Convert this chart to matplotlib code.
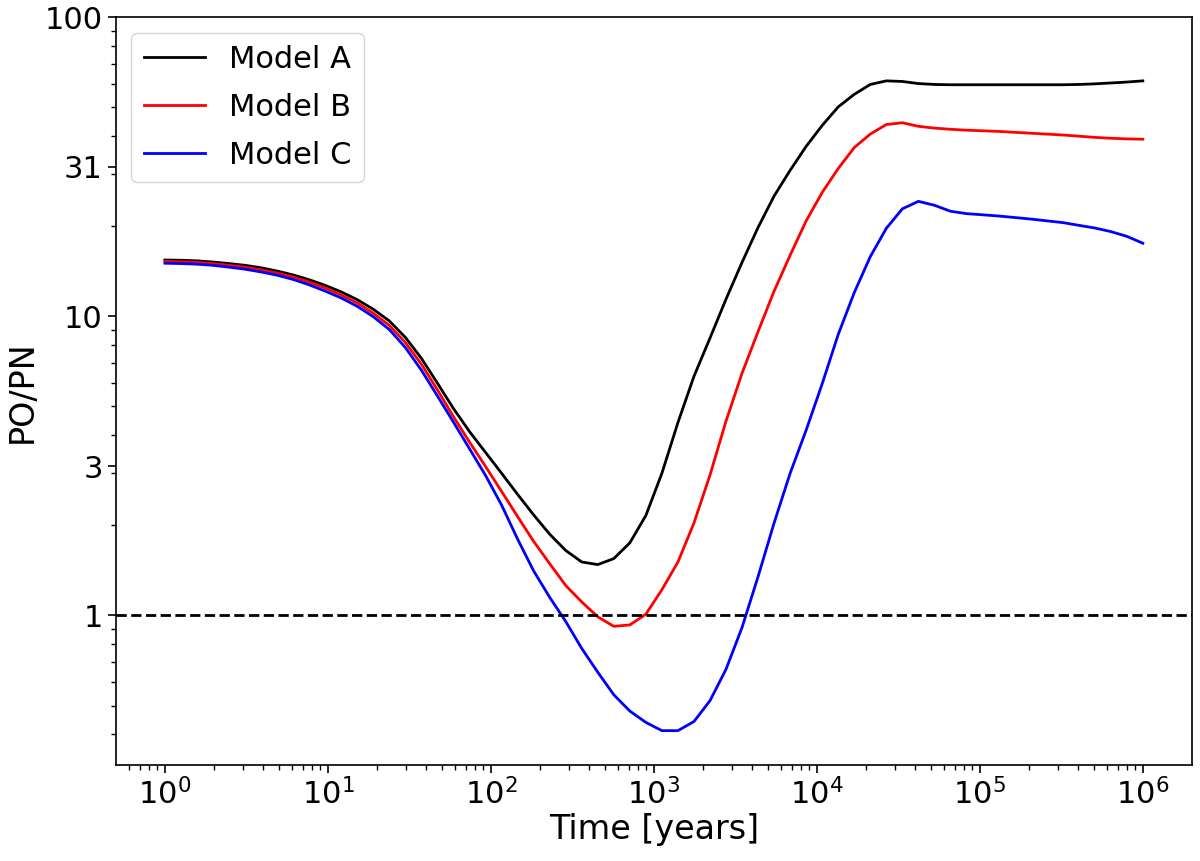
import numpy as np
import matplotlib
matplotlib.use("Agg")
import matplotlib.pyplot as plt
from matplotlib.ticker import NullFormatter

# time grid [years], log spaced 1 .. 1e6
time_yr = [1, 1.254, 1.573, 1.973, 2.475, 3.104, 3.893, 4.883, 6.124, 7.681,
           9.630, 12.08, 15.15, 19.00, 23.83, 29.89, 37.49, 47.01, 58.97, 73.95,
           92.74, 116.3, 145.9, 182.9, 229.5, 287.8, 360.9, 452.7, 567.7, 712.0,
           893.0, 1120, 1405, 1762, 2210, 2771, 3475, 4359, 5467, 6856,
           8599, 10785, 13525, 16963, 21275, 26682, 33464, 41969, 52636, 66014,
           82794, 103835, 130224, 163322, 204833, 256891, 322182, 404069, 506767, 635571,
           797107, 1000000]

model_a = [15.45, 15.42, 15.35, 15.21, 15.03, 14.83, 14.55, 14.19, 13.77, 13.27,
           12.71, 12.08, 11.38, 10.57, 9.66, 8.51, 7.24, 5.98, 4.92, 4.12,
           3.51, 2.99, 2.54, 2.17, 1.87, 1.65, 1.51, 1.48, 1.55, 1.75,
           2.16, 2.99, 4.42, 6.31, 8.47, 11.43, 15.17, 19.86, 25.29, 30.83,
           37.07, 43.55, 50.23, 55.34, 59.70, 61.38, 61.09, 60.12, 59.70, 59.57,
           59.57, 59.57, 59.57, 59.57, 59.57, 59.57, 59.57, 59.70, 59.98, 60.39,
           60.81, 61.38]

model_b = [15.28, 15.24, 15.17, 15.03, 14.83, 14.62, 14.32, 13.96, 13.55, 13.03,
           12.45, 11.80, 11.09, 10.25, 9.33, 8.18, 6.92, 5.68, 4.62, 3.80,
           3.15, 2.60, 2.14, 1.77, 1.49, 1.26, 1.11, 0.99, 0.92, 0.93,
           1.01, 1.22, 1.51, 2.04, 2.95, 4.47, 6.46, 8.91, 12.16, 16.03,
           20.89, 26.0, 31.26, 36.73, 40.74, 43.85, 44.46, 43.25, 42.66, 42.27,
           41.98, 41.78, 41.59, 41.30, 41.02, 40.74, 40.46, 40.09, 39.72, 39.45,
           39.26, 39.17]

model_c = [15.07, 15.03, 14.96, 14.83, 14.62, 14.39, 14.09, 13.74, 13.30, 12.76,
           12.16, 11.53, 10.81, 9.98, 9.04, 7.87, 6.61, 5.42, 4.43, 3.61,
           2.94, 2.34, 1.80, 1.41, 1.15, 0.955, 0.776, 0.646, 0.543, 0.479,
           0.439, 0.412, 0.412, 0.442, 0.519, 0.661, 0.912, 1.35, 2.04, 2.99,
           4.17, 5.96, 8.71, 12.02, 15.85, 19.72, 22.91, 24.27, 23.55, 22.49,
           22.08, 21.88, 21.68, 21.43, 21.18, 20.89, 20.61, 20.18, 19.77, 19.23,
           18.54, 17.58]

series = [("Model A", model_a, "black"),
          ("Model B", model_b, "red"),
          ("Model C", model_c, "blue")]

xtick_vals = [1, 10, 100, 1e3, 1e4, 1e5, 1e6]
ytick_vals = [1, 3.162, 10, 31.62, 100]
ytick_labels = ["1", "3", "10", "31", "100"]

fig = plt.figure(figsize=(12, 8.61), dpi=100)
ax = fig.add_axes([0.0967, 0.1115, 0.8964, 0.8682])

for name, vals, col in series:
    ax.plot(time_yr, vals, color=col, lw=2.0, label=name)

ax.axhline(1, color="black", ls="--", lw=2.0)

ax.set_xscale("log")
ax.set_yscale("log")
ax.set_ylim(10 ** -0.5, 100)

ax.set_xticks(xtick_vals)
ax.set_yticks(ytick_vals)
ax.set_yticklabels(ytick_labels)
ax.yaxis.set_minor_formatter(NullFormatter())
ax.xaxis.set_minor_formatter(NullFormatter())

ax.tick_params(which="major", labelsize=22, length=6, width=1.2)
ax.tick_params(which="minor", length=3.5, width=1.0)
for sp in ax.spines.values():
    sp.set_linewidth(1.2)

ax.set_xlabel("Time [years]", fontsize=24, labelpad=2)
ax.set_ylabel("PO/PN", fontsize=24)

ax.legend(loc="upper left", fontsize=22, labelspacing=0.62)

fig.savefig("out.png", dpi=100)
